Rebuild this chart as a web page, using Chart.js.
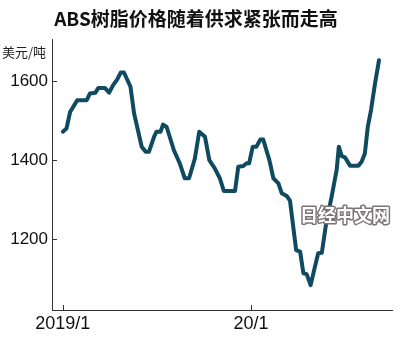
<!DOCTYPE html>
<html>
<head>
<meta charset="utf-8">
<script src="https://cdn.jsdelivr.net/npm/chart.js@4.4.1/dist/chart.umd.min.js"></script>
<style>
html, body { margin: 0; padding: 0; background: #fff; }
#wrap { width: 400px; height: 345px; }
</style>
</head>
<body>
<div id="wrap"><canvas id="abs_price"></canvas></div>
<script>
// weeks counted from 2019/1
const weeks = [0, 1, 2, 4, 6.6, 7.5, 9, 9.8, 11.6, 12.8, 13.9, 15, 16, 16.9, 18.7, 19.7, 21.8, 22.9, 23.8,
    25.2, 25.9, 27, 27.7, 28.7, 30.7, 32.4, 33.7, 34.9, 36.5, 37.7, 39.3, 40.5, 42, 43.4, 44.5, 47.6,
    48.5, 49.9, 50.8, 51.5, 52.5, 53.5, 54.6, 55.4, 57.1, 58.2, 59.6, 60.5, 61.9, 62.8, 64.5, 65.6,
    66.5, 67.4, 68.5, 69.7, 70.6, 71.6, 72.8, 74.3, 75.7, 76.3, 77.1, 78, 79.4, 81.7, 82.6, 83.5,
    84.3, 85.2, 86.3, 87.4];
const prices = [1472, 1480, 1522, 1552, 1552, 1569, 1571, 1583, 1583, 1571, 1590, 1604, 1622, 1622, 1586, 1518, 1434, 1421, 1421,
    1459, 1472, 1472, 1490, 1484, 1425, 1390, 1354, 1354, 1404, 1472, 1459, 1400, 1379, 1354, 1322, 1322,
    1383, 1385, 1392, 1392, 1434, 1434, 1452, 1452, 1400, 1354, 1341, 1316, 1309, 1297, 1172, 1168,
    1113, 1111, 1083, 1130, 1164, 1165, 1240, 1307, 1375, 1434, 1410, 1407, 1386, 1386, 1396, 1417,
    1484, 1527, 1594, 1653];

const yTicks = [1200, 1400, 1600];
const xTicks = [0, 52];
const xTickLabels = ['2019/1', '20/1'];

const axisColor = '#333333';
const lineColor = '#0f4a61';
const numFont = '"Liberation Sans", Arial, sans-serif';

const innerTicks = {
    id: 'innerTicks',
    afterDraw(chart) {
        const ctx = chart.ctx;
        const x = chart.scales.x;
        const y = chart.scales.y;
        ctx.save();
        ctx.strokeStyle = axisColor;
        ctx.lineWidth = 1;
        yTicks.forEach(v => {
            const py = Math.round(y.getPixelForValue(v)) + 0.5;
            ctx.beginPath();
            ctx.moveTo(x.left, py);
            ctx.lineTo(x.left + 5, py);
            ctx.stroke();
        });
        xTicks.forEach(v => {
            const px = Math.round(x.getPixelForValue(v)) + 0.5;
            ctx.beginPath();
            ctx.moveTo(px, y.bottom);
            ctx.lineTo(px, y.bottom - 5);
            ctx.stroke();
        });

        // unit
        ctx.font = '13px "Noto Sans CJK SC"';
        ctx.fillStyle = '#222';
        ctx.textAlign = 'left';
        ctx.textBaseline = 'middle';
        ctx.fillText('美元/吨', 2, 52);

        // watermark
        ctx.font = 'bold 18px "Noto Sans CJK SC"';
        ctx.textAlign = 'center';
        ctx.lineJoin = 'round';
        ctx.lineWidth = 3;
        ctx.strokeStyle = '#7d7275';
        ctx.strokeText('日经中文网', 345, 215);
        ctx.fillStyle = '#ffffff';
        ctx.fillText('日经中文网', 345, 215);
        ctx.restore();
    }
};

const price_chart = {
    type: 'line',
    data: {
        datasets: [{
            label: 'ABS',
            data: weeks.map((w, i) => ({ x: w, y: prices[i] })),
            borderColor: lineColor,
            borderWidth: 4,
            pointRadius: 0,
            tension: 0,
            borderJoinStyle: 'round',
            borderCapStyle: 'round',
            fill: false,
        }],
    },
    options: {
        responsive: true,
        maintainAspectRatio: false,
        animation: false,
        layout: {
            padding: { left: 0, right: 8, top: 0, bottom: 0 },
        },
        scales: {
            x: {
                type: 'linear',
                min: -3,
                max: 91,
                afterBuildTicks: scale => {
                    scale.ticks = xTicks.map(v => ({ value: v }));
                },
                afterFit: scale => { scale.height = 35; },
                grid: { display: false, drawTicks: false },
                border: { color: axisColor, width: 1 },
                ticks: {
                    padding: 3,
                    color: '#111',
                    font: { family: numFont, size: 18 },
                    callback: v => xTickLabels[xTicks.indexOf(v)],
                    maxRotation: 0,
                },
            },
            y: {
                min: 1020,
                max: 1705,
                afterBuildTicks: scale => {
                    scale.ticks = yTicks.map(v => ({ value: v }));
                },
                afterFit: scale => { scale.width = 52; },
                grid: { display: false, drawTicks: false },
                border: { color: axisColor, width: 1 },
                ticks: {
                    padding: 4,
                    color: '#111',
                    font: { family: numFont, size: 17 },
                    callback: v => String(v),
                },
            },
        },
        plugins: {
            legend: { display: false },
            tooltip: { enabled: false },
            title: {
                display: true,
                text: 'ABS树脂价格随着供求紧张而走高',
                color: '#111',
                font: { family: '"Noto Sans CJK SC"', size: 19, weight: 'bold', lineHeight: 1.2 },
                padding: { top: 7, bottom: 10 },
            },
        },
    },
    plugins: [innerTicks],
};

function createChart() {
    const canvas = document.getElementById('abs_price').getContext('2d');
    window.chart = new Chart(canvas, price_chart);
    return window.chart;
}

createChart();
</script>
</body>
</html>
